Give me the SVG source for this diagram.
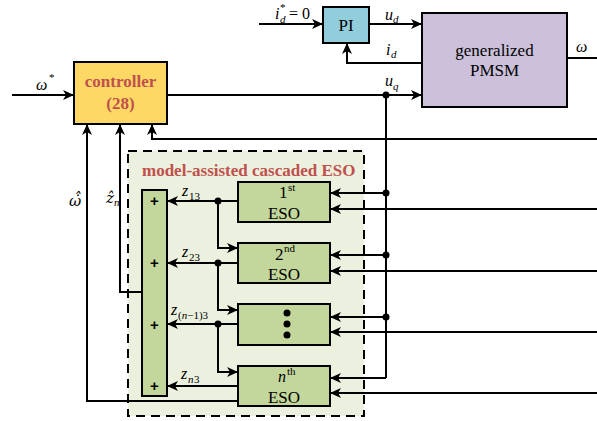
<svg xmlns="http://www.w3.org/2000/svg" width="597" height="421" viewBox="0 0 597 421">
  <style>
    .ln { fill: none; stroke: #000; stroke-width: 2; }
    .arr { marker-end: url(#ah); }
    .box { stroke: #000; stroke-width: 2; }
    .eso { fill: #C3D69B; }
    .t { font-family: "Liberation Serif", "Times New Roman", serif; fill: #000; }
    .lbl { font-family: "Liberation Serif", "Times New Roman", serif; font-size: 17px; fill: #000; text-anchor: middle; }
    .red { font-family: "Liberation Serif", "Times New Roman", serif; font-size: 17px; font-weight: bold; fill: #C0504D; }
    .m { font-family: "Liberation Serif", "Times New Roman", serif; font-size: 16px; font-style: italic; fill: #000; }
    .acc { font-family: "DejaVu Serif", "Liberation Serif", serif; font-size: 15px; font-style: italic; fill: #000; }
    .s { font-family: "Liberation Serif", "Times New Roman", serif; font-size: 11px; fill: #000; }
    .si { font-family: "Liberation Serif", "Times New Roman", serif; font-size: 11px; font-style: italic; fill: #000; }
    .plus { font-family: "Liberation Sans", Arial, sans-serif; font-size: 15px; font-weight: bold; fill: #000; text-anchor: middle; }
    .dot { fill: #000; }
  </style>
  <defs>
    <marker id="ah" markerUnits="userSpaceOnUse" markerWidth="12" markerHeight="10" refX="11" refY="5" orient="auto">
      <path d="M0,0 L11,5 L0,10 L3,5 z" fill="#000"/>
    </marker>
  </defs>

  <rect width="597" height="421" fill="#fff"/>

  <!-- ESO group frame -->
  <g id="eso-frame">
    <rect x="128" y="151" width="236" height="265" fill="#EBF1DE" stroke="#000" stroke-width="2" stroke-dasharray="9,6"/>
    <text class="red" x="142" y="176">model-assisted cascaded ESO</text>
  </g>

  <!-- connectors -->
  <g id="connectors">
    <!-- speed reference -->
    <path class="ln arr" d="M12,95 H74"/>
    <!-- controller to PMSM (u_q) -->
    <path class="ln arr" d="M167,95 H422"/>
    <!-- d-axis current loop -->
    <path class="ln arr" d="M259,24 H323"/>
    <path class="ln arr" d="M369,24 H422"/>
    <path class="ln arr" d="M422,63 H347 V43"/>
    <!-- speed output -->
    <path class="ln" d="M567,58 H597"/>
    <!-- feedbacks to controller -->
    <path class="ln arr" d="M597,139 H152 V124"/>
    <path class="ln arr" d="M238,401 H87 V124"/>
    <path class="ln arr" d="M142,292 H120 V124"/>
    <!-- u_q bus to the observers -->
    <path class="ln" d="M386,95 V378"/>
    <path class="ln arr" d="M386,193 H330"/>
    <path class="ln arr" d="M386,255 H330"/>
    <path class="ln arr" d="M386,317 H330"/>
    <path class="ln arr" d="M386,378 H330"/>
    <!-- second inputs from the right -->
    <path class="ln arr" d="M597,209 H330"/>
    <path class="ln arr" d="M597,271 H330"/>
    <path class="ln arr" d="M597,332 H330"/>
    <path class="ln arr" d="M597,393 H330"/>
    <!-- observer outputs to the summer -->
    <path class="ln arr" d="M238,201 H167"/>
    <path class="ln arr" d="M238,263 H167"/>
    <path class="ln arr" d="M238,324 H167"/>
    <path class="ln arr" d="M238,386 H167"/>
    <!-- cascade links -->
    <path class="ln arr" d="M218,201 V248 H238"/>
    <path class="ln arr" d="M218,263 V310 H238"/>
    <path class="ln arr" d="M218,324 V372 H238"/>
    <!-- junction dots -->
    <circle class="dot" cx="386" cy="95" r="3.5"/>
    <circle class="dot" cx="386" cy="193" r="3.5"/>
    <circle class="dot" cx="386" cy="255" r="3.5"/>
    <circle class="dot" cx="386" cy="317" r="3.5"/>
    <circle class="dot" cx="218" cy="201" r="3.5"/>
    <circle class="dot" cx="218" cy="263" r="3.5"/>
    <circle class="dot" cx="218" cy="324" r="3.5"/>

    <!-- signal labels -->
    <text class="m" x="36" y="90">ω</text>
    <text class="s" x="49" y="81">*</text>
    <text class="m" x="275" y="19">i</text>
    <text class="s" x="280" y="11">*</text>
    <text class="si" x="280" y="23">d</text>
    <text class="t" font-size="16" x="289" y="19">= 0</text>
    <text class="m" x="385" y="20">u</text>
    <text class="si" x="393" y="23">d</text>
    <text class="m" x="386" y="55">i</text>
    <text class="si" x="391" y="58">d</text>
    <text class="m" x="385" y="86">u</text>
    <text class="si" x="393" y="90">q</text>
    <text class="m" x="576" y="52">ω</text>
    <text class="acc" x="69" y="206">ω̇̂</text>
    <text class="acc" x="106" y="203">ẑ<tspan class="si" dy="3">n</tspan></text>
    <text class="m" x="182" y="196">z</text>
    <text class="s" x="189" y="200">13</text>
    <text class="m" x="182" y="257">z</text>
    <text class="s" x="189" y="261">23</text>
    <text class="m" x="171" y="315">z</text>
    <text class="s" x="178" y="319">(<tspan font-style="italic">n</tspan>−1)3</text>
    <text class="m" x="181" y="379">z</text>
    <text class="si" x="188" y="383">n</text>
    <text class="s" x="194" y="383">3</text>
  </g>

  <g id="controller">
    <rect class="box" x="74" y="62" width="93" height="62" fill="#FDD865"/>
    <text class="red" x="120.5" y="87" text-anchor="middle">controller</text>
    <text class="red" x="120.5" y="109" text-anchor="middle">(28)</text>
  </g>

  <g id="pi">
    <rect class="box" x="323" y="7" width="46" height="36" fill="#92CDDC"/>
    <text class="lbl" x="346" y="31">PI</text>
  </g>

  <g id="pmsm">
    <rect class="box" x="422" y="13" width="145" height="94" fill="#CCC0DA"/>
    <text class="lbl" x="494.5" y="56">generalized</text>
    <text class="lbl" x="494.5" y="76">PMSM</text>
  </g>

  <g id="summer">
    <rect class="box eso" x="142" y="190" width="25" height="206"/>
    <text class="plus" x="154.5" y="206">+</text>
    <text class="plus" x="154.5" y="268">+</text>
    <text class="plus" x="154.5" y="330">+</text>
    <text class="plus" x="154.5" y="391">+</text>
  </g>

  <g id="eso-1">
    <rect class="box eso" x="238" y="182" width="92" height="40"/>
    <text class="t" font-size="17" x="279" y="198">1</text>
    <text class="s" x="288" y="191">st</text>
    <text class="lbl" x="284" y="219">ESO</text>
  </g>

  <g id="eso-2">
    <rect class="box eso" x="238" y="243" width="92" height="40"/>
    <text class="t" font-size="17" x="275" y="260">2</text>
    <text class="s" x="284" y="252">nd</text>
    <text class="lbl" x="284" y="280">ESO</text>
  </g>

  <g id="eso-dots">
    <rect class="box eso" x="238" y="304" width="92" height="41"/>
    <circle class="dot" cx="287" cy="313" r="3.5"/>
    <circle class="dot" cx="287" cy="324" r="3.5"/>
    <circle class="dot" cx="287" cy="335" r="3.5"/>
  </g>

  <g id="eso-n">
    <rect class="box eso" x="238" y="366" width="92" height="40"/>
    <text class="m" font-size="17" x="278" y="382">n</text>
    <text class="s" x="287" y="375">th</text>
    <text class="lbl" x="284" y="403">ESO</text>
  </g>
</svg>
